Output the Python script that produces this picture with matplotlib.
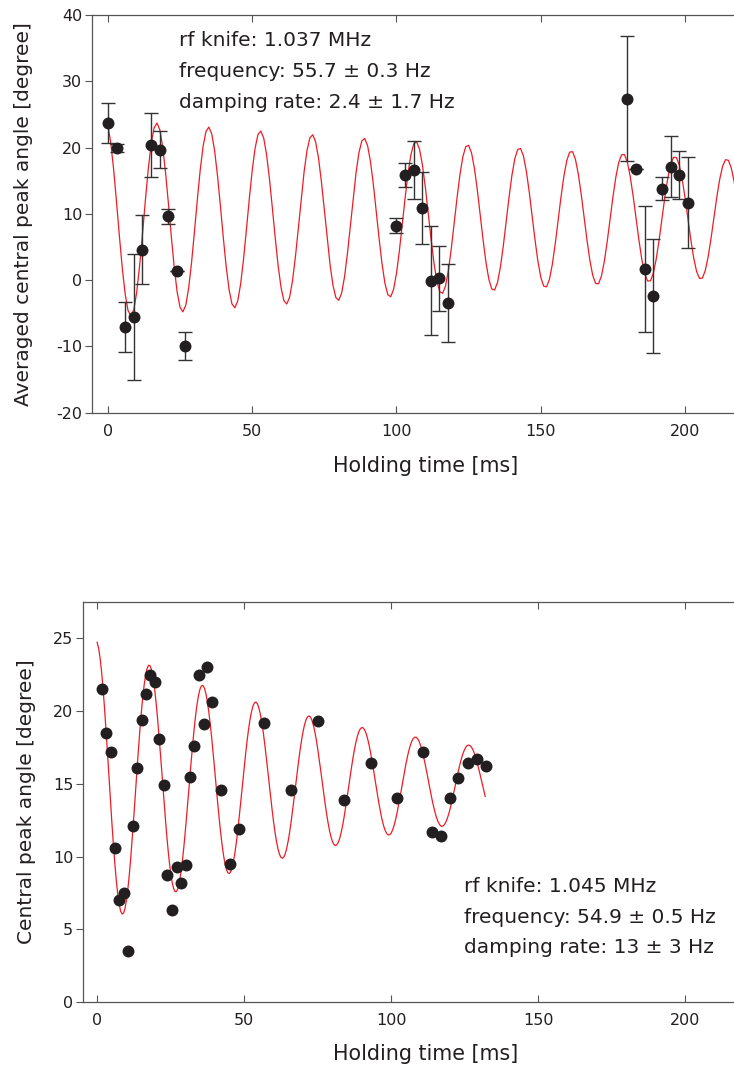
import matplotlib
matplotlib.use("Agg")
import matplotlib.pyplot as plt
import numpy as np

plt.rcParams['font.family'] = ['DejaVu Sans']
plt.rcParams['axes.unicode_minus'] = False

# top panel: rf knife 1.037 MHz, averaged angle with error bars
top_time = [0.0, 3.1, 6.0, 8.9, 11.7, 14.9, 17.9, 20.8, 23.9, 26.9,
            99.9, 102.9, 106.1, 108.9, 111.9, 114.9, 118.0,
            180.0, 183.0, 186.0, 189.0, 192.0, 195.0, 198.0, 201.1]
top_angle = [23.7, 20.0, -7.1, -5.5, 4.6, 20.4, 19.7, 9.6, 1.4, -9.9,
             8.2, 15.8, 16.6, 10.9, -0.1, 0.3, -3.5,
             27.4, 16.7, 1.7, -2.4, 13.8, 17.1, 15.9, 11.7]
top_err = [3.0, 0.6, 3.8, 9.5, 5.2, 4.8, 2.8, 1.2, 0.0, 2.1,
           1.1, 1.8, 4.4, 5.4, 8.2, 4.9, 5.9,
           9.4, 0.0, 9.5, 8.6, 1.7, 4.6, 3.6, 6.8]
# damped cosine fit: offset, amplitude, freq [Hz], damping [1/s], peak time [ms]
top_fit = dict(offset=9.3, amp=15.0, freq=55.7, damp=2.4, t0=-1.0, tmax=221.0, step=1.0)
top_text = ["rf knife: 1.037 MHz", "frequency: 55.7 \u00b1 0.3 Hz", "damping rate: 2.4 \u00b1 1.7 Hz"]

# bottom panel: rf knife 1.045 MHz, single shots
bot_time = [1.6, 3.1, 4.7, 6.1, 7.6, 9.0, 10.6, 12.1, 13.7, 15.1,
            16.7, 18.0, 19.7, 21.1, 22.6, 23.9, 25.6, 27.1, 28.5, 30.3,
            31.6, 33.1, 34.6, 36.2, 37.5, 39.1, 42.1, 45.2, 48.1, 56.9,
            66.0, 75.1, 84.1, 93.1, 101.9, 111.0, 114.0, 117.0, 120.1, 122.9,
            126.1, 129.1, 132.2]
bot_angle = [21.5, 18.5, 17.2, 10.6, 7.0, 7.5, 3.5, 12.1, 16.1, 19.4,
             21.2, 22.5, 22.0, 18.1, 14.9, 8.7, 6.3, 9.3, 8.2, 9.4,
             15.5, 17.6, 22.5, 19.1, 23.0, 20.6, 14.6, 9.5, 11.9, 19.2,
             14.6, 19.3, 13.9, 16.4, 14.0, 17.2, 11.7, 11.4, 14.0, 15.4,
             16.4, 16.7, 16.2]
bot_fit = dict(offset=15.0, amp=9.8, freq=55.2, damp=10.3, t0=-0.35, tmax=132.2, step=0.5)
bot_text = ["rf knife: 1.045 MHz", "frequency: 54.9 \u00b1 0.5 Hz", "damping rate: 13 \u00b1 3 Hz"]

DOT = '#231f20'
FIT = '#ee1c25'
AXC = '#555555'


def fit_curve(p):
    t = np.arange(0.0, p['tmax'] + 1e-9, p['step'])
    y = p['offset'] + p['amp'] * np.exp(-p['damp'] * t / 1000.0) * \
        np.cos(2 * np.pi * p['freq'] * (t - p['t0']) / 1000.0)
    return t, y


def style_axes(ax):
    for side in ['left', 'top', 'bottom']:
        ax.spines[side].set_color(AXC)
        ax.spines[side].set_linewidth(0.9)
    ax.spines['right'].set_visible(False)
    ax.tick_params(axis='y', direction='out', length=5, width=0.8, color=AXC,
                   labelsize=11.5, labelcolor=DOT, pad=2)
    ax.tick_params(axis='x', direction='in', length=5, width=0.8, color=AXC,
                   labelsize=11.5, labelcolor=DOT, pad=8, top=True)
    ax.set_xticks([0, 50, 100, 150, 200])


def add_text(fig, lines, x_px, base_px):
    for line, yb in zip(lines, base_px):
        fig.text(x_px / 734, 1 - yb / 1070, line, fontsize=14.5, color=DOT,
                 ha='left', va='baseline')


fig = plt.figure(figsize=(7.34, 10.70), dpi=100)

ax1 = fig.add_axes([0.1253, 0.6143, 0.8867, 0.3717])
t, y = fit_curve(top_fit)
ax1.plot(t, y, color=FIT, lw=0.9, zorder=2)
ax1.errorbar(top_time, top_angle, yerr=top_err, fmt='none', ecolor='#333333',
             elinewidth=1.0, capsize=5, capthick=1.0, zorder=3)
ax1.plot(top_time, top_angle, 'o', color=DOT, markersize=8.6, markeredgewidth=0, zorder=4)
ax1.set_xlim(-5.5, 220)
ax1.set_ylim(-20, 40)
ax1.set_yticks(range(-20, 41, 10))
style_axes(ax1)
ax1.set_xlabel("Holding time [ms]", fontsize=14.9, color=DOT)
ax1.set_ylabel("Averaged central peak angle [degree]", fontsize=14.5, color=DOT)
ax1.xaxis.set_label_coords((426 - 92) / 650.8, -0.109)
ax1.yaxis.set_label_coords(-0.0907, 0.5)

ax2 = fig.add_axes([0.1131, 0.0636, 0.9004, 0.3738])
t, y = fit_curve(bot_fit)
ax2.plot(t, y, color=FIT, lw=0.9, zorder=2)
ax2.plot(bot_time, bot_angle, 'o', color=DOT, markersize=8.6, markeredgewidth=0, zorder=4)
ax2.set_xlim(-4.8, 220)
ax2.set_ylim(0, 27.5)
ax2.set_yticks(range(0, 26, 5))
style_axes(ax2)
ax2.set_xlabel("Holding time [ms]", fontsize=14.9, color=DOT)
ax2.set_ylabel("Central peak angle [degree]", fontsize=14.5, color=DOT)
ax2.xaxis.set_label_coords((426 - 83) / 660.9, -0.105)
ax2.yaxis.set_label_coords(-0.0711, 0.5)

add_text(fig, top_text, 179, [46.5, 77, 107.7])
add_text(fig, bot_text, 464, [891.7, 922.7, 953.3])

fig.savefig("out.png", dpi=100)
